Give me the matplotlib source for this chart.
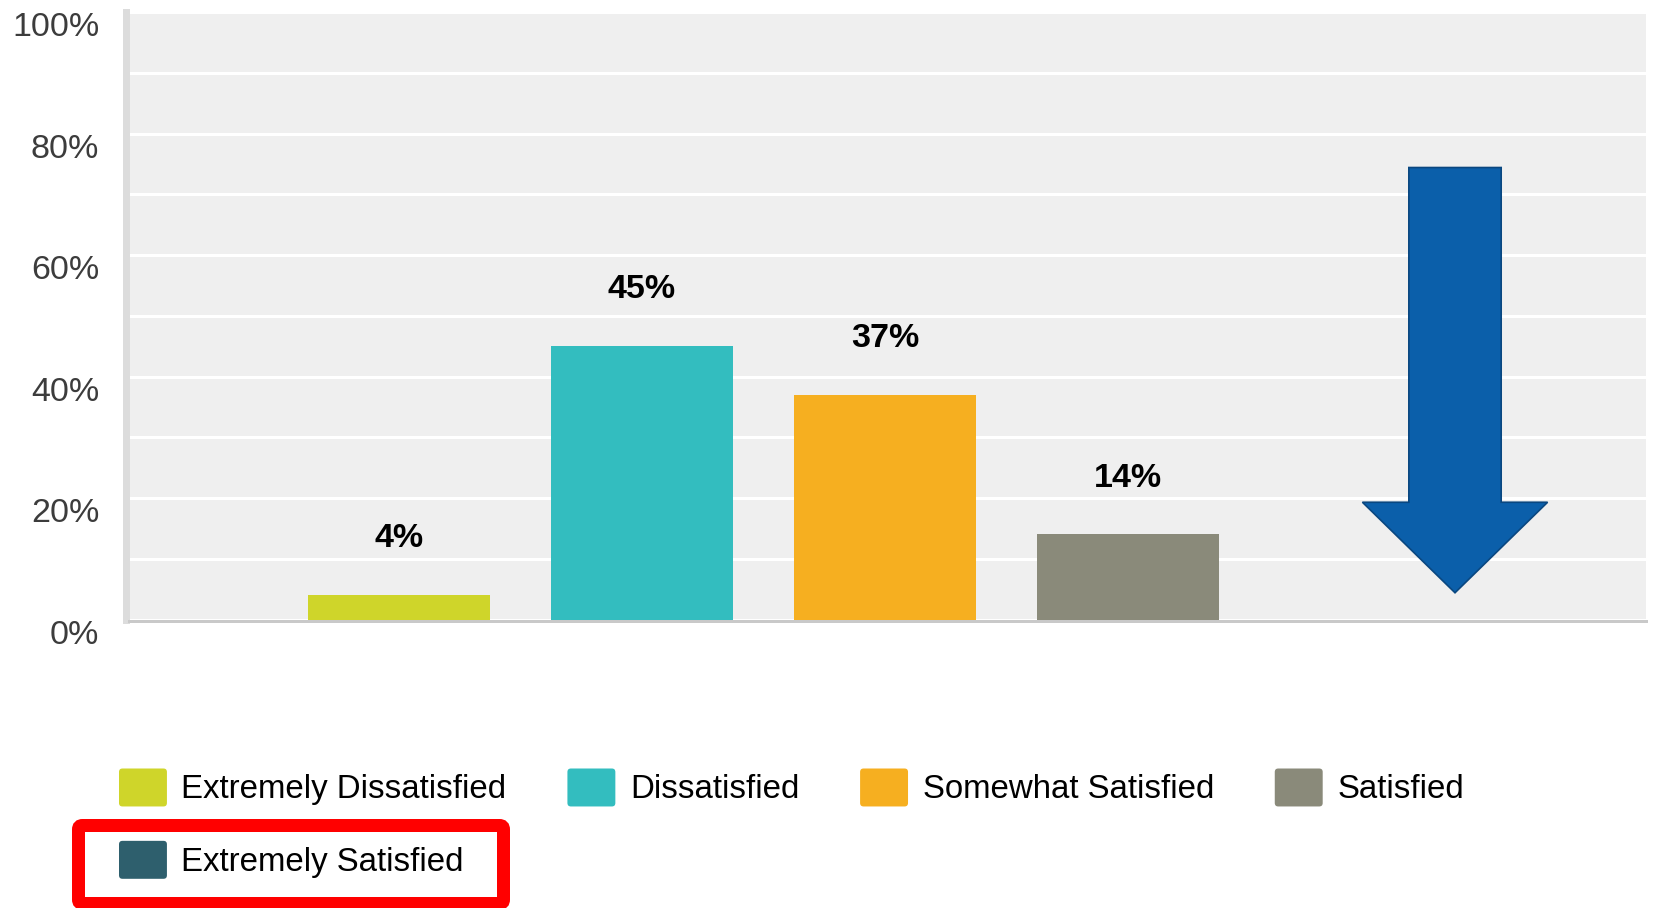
import numpy as np
import matplotlib
matplotlib.use('Agg')
import matplotlib.pyplot as plt
from matplotlib.patches import Polygon, FancyBboxPatch, Patch
from matplotlib.legend_handler import HandlerPatch

categories = ['Extremely Dissatisfied', 'Dissatisfied', 'Somewhat Satisfied',
              'Satisfied', 'Extremely Satisfied']
percents = [4, 45, 37, 14, 0]
colors = ['#cfd52a', '#33bdbf', '#f6af20', '#8a8a7a', '#2e5f6d']
yticks = [0, 20, 40, 60, 80, 100]
ytick_labels = ['0%', '20%', '40%', '60%', '80%', '100%']

plt.rcParams['font.family'] = ['Liberation Sans', 'DejaVu Sans']

W, H = 1653, 908
fig = plt.figure(figsize=(W / 100, H / 100), dpi=100)
ax = fig.add_axes([129 / W, 1 - 619.5 / H, 1517 / W, 607.5 / H])
ax.set_facecolor('#efefef')

x = np.arange(len(categories))
bars = ax.bar(x, percents, width=0.75, color=colors, zorder=3)

# value labels above the bars
for b, v in zip(bars, percents):
    if v > 0:
        ax.annotate(f'{v}%', (b.get_x() + b.get_width() / 2, v),
                    xytext=(0, 40.5), textcoords='offset points',
                    ha='center', va='center', fontsize=24.5,
                    fontweight='bold', color='black')

# big downward arrow on the right
ax_c, shaft, head = 4.346, 0.19, 0.381
top, neck, tip = 74.4, 19.3, 4.4
arrow = Polygon([(ax_c - shaft, top), (ax_c + shaft, top), (ax_c + shaft, neck),
                 (ax_c + head, neck), (ax_c, tip), (ax_c - head, neck),
                 (ax_c - shaft, neck)],
                closed=True, facecolor='#0b5faa', edgecolor='#0a4780',
                linewidth=1.2, zorder=4)
ax.add_patch(arrow)

ax.set_xlim(-1.111, 5.132)
ax.set_ylim(0, 100)
ax.set_xticks([])
ax.set_yticks(yticks)
ax.set_yticklabels([])
ax.set_yticks(np.arange(0, 101, 10), minor=True)
ax.yaxis.grid(True, which='both', color='white', linewidth=2.2)
ax.set_axisbelow(True)
ax.tick_params(axis='y', which='both', length=0)

# y labels sit a little below their gridlines
for v, lab in zip(yticks, ytick_labels):
    ax.annotate(lab, (0, v), xycoords=ax.get_yaxis_transform(),
                xytext=(-21.5, -11.5), textcoords='offset points',
                ha='right', va='center', fontsize=24.5, color='#3c3c3c',
                annotation_clip=False)

for s in ['top', 'right']:
    ax.spines[s].set_visible(False)
ax.spines['left'].set_color('#dcdcdc')
ax.spines['left'].set_linewidth(5.04)
ax.spines['left'].set_position(('outward', 2.5))
ax.spines['bottom'].set_color('#c9c9c9')
ax.spines['bottom'].set_linewidth(2.16)
ax.spines['bottom'].set_position(('outward', 1.0))


def rounded_swatch(legend, orig_handle, xdescent, ydescent, width, height, fontsize):
    return FancyBboxPatch((-xdescent, -ydescent), width, height,
                          boxstyle='round,pad=0,rounding_size=2.5')


# legend, reordered so the last entry wraps under the first column
order = [0, 4, 1, 2, 3]
handles = [Patch(facecolor=colors[i], edgecolor='none') for i in order]
labels = [categories[i] for i in order]
fig.legend(handles, labels, loc='upper left',
           bbox_to_anchor=(119 / W, 1 - 768.5 / H), ncol=4, frameon=False,
           fontsize=23.8, handlelength=1.45, handleheight=1.39,
           handletextpad=0.44, columnspacing=1.84, labelspacing=1.04,
           borderpad=0, borderaxespad=0,
           handler_map={Patch: HandlerPatch(patch_func=rounded_swatch)})

# red highlight box round the last legend entry
box = FancyBboxPatch((0.785, (H - 903.5) / 100), 4.25, 0.78,
                     boxstyle='round,pad=0,rounding_size=0.04',
                     transform=fig.dpi_scale_trans, fill=False,
                     edgecolor='#ff0000', linewidth=9.36)
fig.add_artist(box)

fig.savefig('out.png', dpi=100)
